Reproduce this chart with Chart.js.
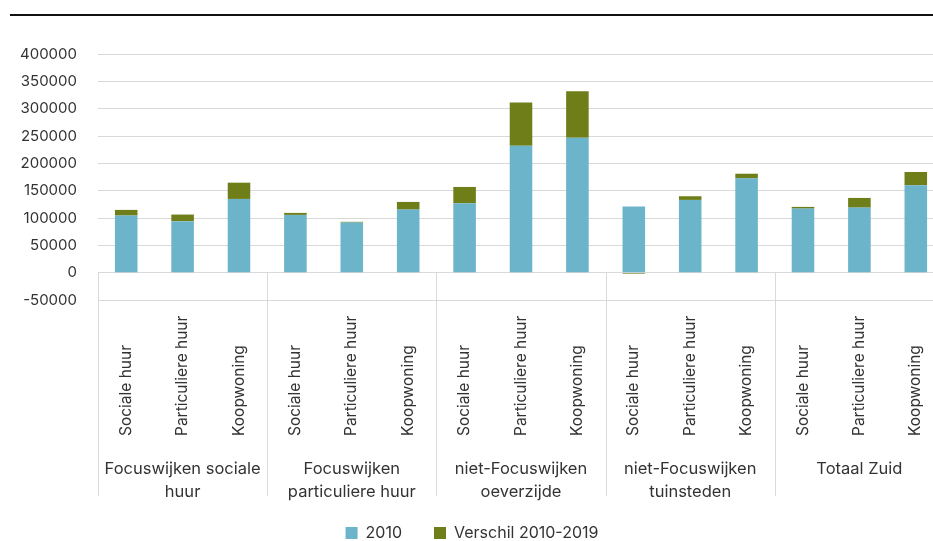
<!DOCTYPE html>
<html>
<head>
<meta charset="utf-8">
<script src="https://cdn.jsdelivr.net/npm/chart.js@4/dist/chart.umd.min.js"></script>
<style>
  html, body { margin: 0; padding: 0; background: #fff; overflow: hidden; }
  #wrap { position: relative; width: 933px; height: 541px; overflow: hidden; }
  #rule { position: absolute; left: 10px; right: 0; top: 14px; height: 2px; background: #111; }
  canvas { position: absolute; left: 0; top: 0; }
</style>
</head>
<body>
<div id="wrap">
  <div id="rule"></div>
  <canvas id="chart" width="946" height="541"></canvas>
</div>
<script>
// DATA
const groups = [
  ["Focuswijken sociale", "huur"],
  ["Focuswijken", "particuliere huur"],
  ["niet-Focuswijken", "oeverzijde"],
  ["niet-Focuswijken", "tuinsteden"],
  ["Totaal Zuid"],
];
const types = ["Sociale huur", "Particuliere huur", "Koopwoning"];
const labels = groups.flatMap(() => types);

const base2010 = [
  104500, 94200, 134900,
  105700, 91700, 115400,
  127000, 232100, 246700,
  120900, 133100, 172600,
  117200, 119000, 159900,
];
const diff2010to2019 = [
  10300, 12100, 29700,
  3600, 1300, 14000,
  29800, 79000, 85100,
  -2000, 6700, 8400,
  3100, 17700, 24200,
];
const yTicksMin = -50000;
const yTicksMax = 400000;
const yStep = 50000;

const FONT = "Inter, 'Noto Sans', sans-serif";
const TEXT = "#333333";
const GRID = "#d9d9d9";

// category labels + group dividers under the plot
const groupAxis = {
  id: "groupAxis",
  afterDraw(chart) {
    const { ctx, chartArea } = chart;
    const x = chart.scales.x;
    const y = chart.scales.y;
    const zero = y.getPixelForValue(0);
    const catW = x.getPixelForValue(1) - x.getPixelForValue(0);
    const bottom = chartArea.bottom;

    ctx.save();
    // dividers
    ctx.strokeStyle = GRID;
    ctx.lineWidth = 1;
    for (let g = 0; g <= groups.length; g++) {
      const px = Math.round(x.getPixelForValue(g * types.length) - catW / 2) + 0.5;
      ctx.beginPath();
      ctx.moveTo(px, zero);
      ctx.lineTo(px, bottom + 196);
      ctx.stroke();
    }
    // rotated type labels
    ctx.fillStyle = TEXT;
    ctx.font = "15.5px " + FONT;
    ctx.textAlign = "left";
    ctx.textBaseline = "middle";
    labels.forEach((lab, i) => {
      ctx.save();
      ctx.translate(x.getPixelForValue(i), bottom + 136);
      ctx.rotate(-Math.PI / 2);
      ctx.fillText(lab, 0, 0);
      ctx.restore();
    });
    // group labels
    ctx.font = "16.5px " + FONT;
    ctx.textAlign = "center";
    groups.forEach((lines, g) => {
      const cx = x.getPixelForValue(g * types.length + 1);
      lines.forEach((ln, k) => {
        ctx.fillText(ln, cx, bottom + 169 + k * 23);
      });
    });
    ctx.restore();
  },
};

new Chart(document.getElementById("chart"), {
  type: "bar",
  data: {
    labels,
    datasets: [
      {
        label: "2010",
        data: base2010,
        backgroundColor: "#6cb4c9",
        categoryPercentage: 1,
        barPercentage: 0.4,
      },
      {
        label: "Verschil 2010-2019",
        data: diff2010to2019,
        backgroundColor: "#6f7e19",
        categoryPercentage: 1,
        barPercentage: 0.4,
      },
    ],
  },
  options: {
    responsive: false,
    animation: false,
    devicePixelRatio: 1,
    layout: { padding: { top: 54, right: 2, left: 0, bottom: -10 } },
    plugins: {
      legend: {
        position: "bottom",
        labels: {
          boxWidth: 12,
          boxHeight: 12,
          padding: 32,
          color: TEXT,
          font: { family: FONT, size: 16 },
        },
      },
      tooltip: { enabled: false },
    },
    scales: {
      x: {
        stacked: true,
        grid: { display: false },
        border: { display: false },
        ticks: { display: false },
        afterFit(scale) { scale.height = 193; },
      },
      y: {
        stacked: true,
        min: yTicksMin,
        max: yTicksMax,
        grid: { color: GRID, drawTicks: false },
        border: { display: false },
        ticks: {
          stepSize: yStep,
          padding: 21,
          color: TEXT,
          font: { family: FONT, size: 15 },
          callback: (v) => String(v),
        },
        afterFit(scale) { scale.width = 98; },
      },
    },
  },
  plugins: [groupAxis],
});
</script>
</body>
</html>
